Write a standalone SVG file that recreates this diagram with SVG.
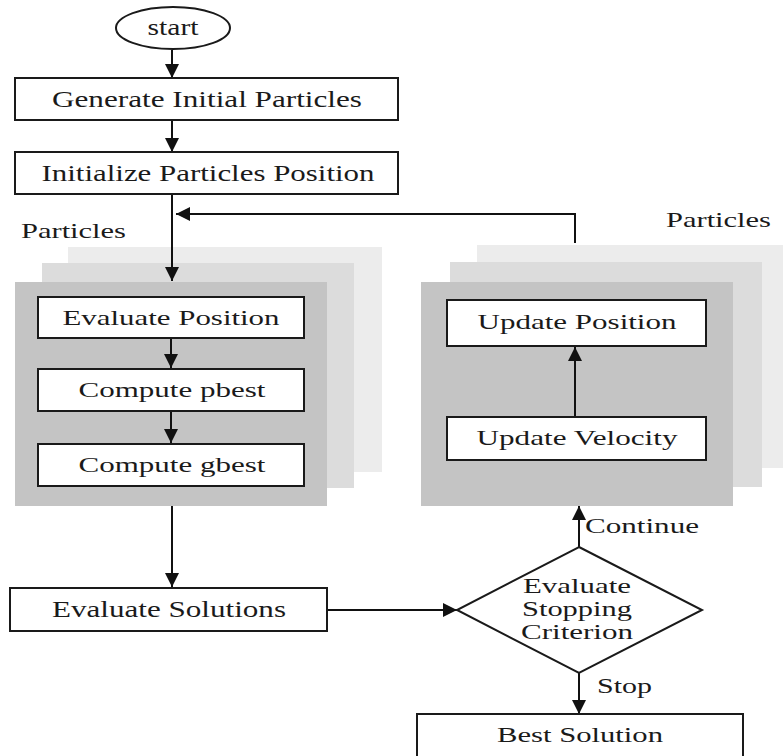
<svg xmlns="http://www.w3.org/2000/svg" width="783" height="756" viewBox="0 0 783 756">
<defs>
<style>
.bg{fill:#ffffff}
.box{fill:#ffffff;stroke:#1a1a1a;stroke-width:2}
.t{font-family:"Liberation Serif","Times New Roman",serif;fill:#1a1a1a;text-anchor:middle}
.lbl{font-family:"Liberation Serif","Times New Roman",serif;fill:#1a1a1a}
.l1{fill:#c4c4c4}
.l2{fill:#dcdcdc}
.l3{fill:#ececec}
.c{fill:none;stroke:#111;stroke-width:2}
</style>
<marker id="ah" viewBox="0 0 10 10" refX="10" refY="5" markerWidth="14" markerHeight="14" markerUnits="userSpaceOnUse" orient="auto">
<path d="M0,0 L10,5 L0,10 z" fill="#111"/>
</marker>
</defs>
<rect class="bg" x="0" y="0" width="783" height="756"/>

<g id="stack-left">
<rect class="l3" x="68" y="247" width="314" height="225"/>
<rect class="l2" x="42" y="263" width="312" height="225"/>
<rect class="l1" x="15" y="282" width="312" height="224"/>
</g>
<g id="stack-right">
<rect class="l3" x="477" y="245" width="306" height="223"/>
<rect class="l2" x="450" y="262" width="312" height="225"/>
<rect class="l1" x="421" y="282" width="312" height="224"/>
</g>

<g id="label-particles-left"><text class="lbl" x="21" y="238" font-size="22" textLength="105" lengthAdjust="spacingAndGlyphs">Particles</text></g>
<g id="label-particles-right"><text class="lbl" x="666" y="227" font-size="22" textLength="105" lengthAdjust="spacingAndGlyphs">Particles</text></g>

<g id="connectors">
<line class="c" x1="172" y1="50" x2="172" y2="78" marker-end="url(#ah)"/>
<line class="c" x1="172" y1="120" x2="172" y2="152" marker-end="url(#ah)"/>
<line class="c" x1="172" y1="194" x2="172" y2="281" marker-end="url(#ah)"/>
<polyline class="c" points="575,243 575,214 176,214" marker-end="url(#ah)"/>
<line class="c" x1="171" y1="338" x2="171" y2="368" marker-end="url(#ah)"/>
<line class="c" x1="171" y1="411" x2="171" y2="443" marker-end="url(#ah)"/>
<line class="c" x1="575" y1="417" x2="575" y2="347" marker-end="url(#ah)"/>
<line class="c" x1="172" y1="506" x2="172" y2="587" marker-end="url(#ah)"/>
<line class="c" x1="327" y1="610" x2="457" y2="610" marker-end="url(#ah)"/>
<line class="c" x1="579" y1="547" x2="579" y2="506" marker-end="url(#ah)"/>
<line class="c" x1="579" y1="673" x2="579" y2="714" marker-end="url(#ah)"/>
</g>

<g id="start">
<ellipse cx="173" cy="28" rx="57" ry="21" fill="#fff" stroke="#1a1a1a" stroke-width="2"/>
<text class="t" x="173" y="35" font-size="23" textLength="51" lengthAdjust="spacingAndGlyphs">start</text>
</g>
<g id="generate">
<rect class="box" x="15" y="78" width="383" height="42"/>
<text class="t" x="207" y="107" font-size="24" textLength="310" lengthAdjust="spacingAndGlyphs">Generate Initial Particles</text>
</g>
<g id="initialize">
<rect class="box" x="15" y="152" width="383" height="42"/>
<text class="t" x="208" y="181" font-size="24" textLength="333" lengthAdjust="spacingAndGlyphs">Initialize Particles Position</text>
</g>
<g id="eval-position">
<rect class="box" x="38" y="297" width="266" height="41"/>
<text class="t" x="171" y="325" font-size="22" textLength="217" lengthAdjust="spacingAndGlyphs">Evaluate Position</text>
</g>
<g id="pbest">
<rect class="box" x="38" y="369" width="266" height="42"/>
<text class="t" x="172" y="397" font-size="22" textLength="187" lengthAdjust="spacingAndGlyphs">Compute pbest</text>
</g>
<g id="gbest">
<rect class="box" x="38" y="444" width="266" height="42"/>
<text class="t" x="172" y="472" font-size="22" textLength="187" lengthAdjust="spacingAndGlyphs">Compute gbest</text>
</g>
<g id="update-position">
<rect class="box" x="447" y="300" width="259" height="46"/>
<text class="t" x="577" y="329" font-size="22" textLength="199" lengthAdjust="spacingAndGlyphs">Update Position</text>
</g>
<g id="update-velocity">
<rect class="box" x="447" y="417" width="259" height="43"/>
<text class="t" x="577" y="445" font-size="22" textLength="201" lengthAdjust="spacingAndGlyphs">Update Velocity</text>
</g>
<g id="eval-solutions">
<rect class="box" x="10" y="588" width="317" height="43"/>
<text class="t" x="169" y="617" font-size="23" textLength="234" lengthAdjust="spacingAndGlyphs">Evaluate Solutions</text>
</g>
<g id="stopping">
<polygon points="579,547 702,610 579,673 457,610" fill="#fff" stroke="#1a1a1a" stroke-width="2"/>
<text class="t" x="577" y="593" font-size="22" textLength="108" lengthAdjust="spacingAndGlyphs">Evaluate</text>
<text class="t" x="577" y="616" font-size="22" textLength="110" lengthAdjust="spacingAndGlyphs">Stopping</text>
<text class="t" x="577" y="639" font-size="22" textLength="112" lengthAdjust="spacingAndGlyphs">Criterion</text>
</g>
<g id="label-continue"><text class="lbl" x="585" y="533" font-size="22" textLength="114" lengthAdjust="spacingAndGlyphs">Continue</text></g>
<g id="label-stop"><text class="lbl" x="597" y="693" font-size="22" textLength="55" lengthAdjust="spacingAndGlyphs">Stop</text></g>
<g id="best">
<rect class="box" x="417" y="714" width="326" height="50"/>
<text class="t" x="580" y="742" font-size="22" textLength="166" lengthAdjust="spacingAndGlyphs">Best Solution</text>
</g>
</svg>
